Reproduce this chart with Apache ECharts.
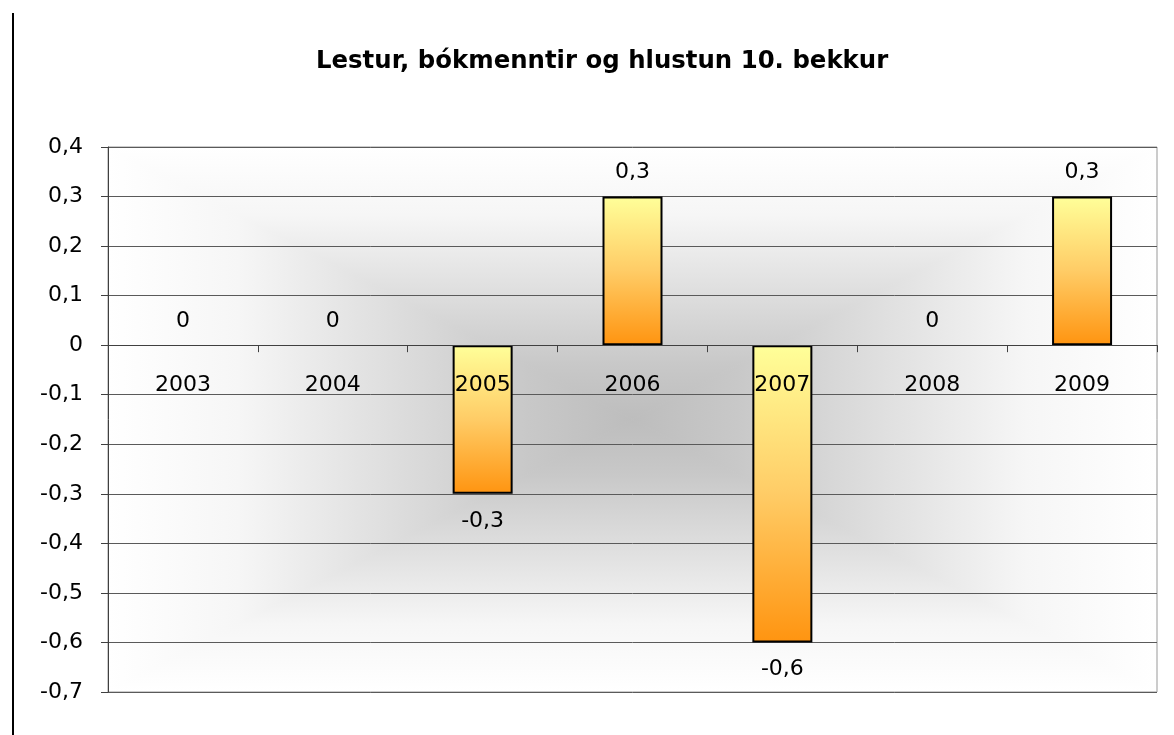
<!DOCTYPE html>
<html>
<head>
<meta charset="utf-8">
<title>Lestur, bókmenntir og hlustun 10. bekkur</title>
<script src="https://cdn.jsdelivr.net/npm/echarts@6/dist/echarts.min.js"></script>
<style>
    html, body { margin: 0; padding: 0; background: #fff; }
    #chart { width: 1174px; height: 735px; }
</style>
</head>
<body>
<div id="chart"></div>
<script>
// gögn
const years = ['2003', '2004', '2005', '2006', '2007', '2008', '2009'];
const values = [0, 0, -0.3, 0.3, -0.6, 0, 0.3];
const yTicks = { min: -0.7, max: 0.4, interval: 0.1 };

const FONT = '"DejaVu Sans", Arial, sans-serif';
const GRID = { left: 108, right: 17, top: 147, bottom: 43 };
const W = 1174, H = 735;

// tala með kommu
const fmt = v => Math.abs(v) < 1e-9 ? '0' : (+v).toFixed(1).replace('.', ',');

// bakgrunnur: ferhyrndur litaskali frá miðju (eins og í Excel)
function backgroundPieces() {
    const x0 = GRID.left, x1 = W - GRID.right, y0 = GRID.top, y1 = H - GRID.bottom;
    const cx = (x0 + x1) / 2, cy = (y0 + y1) / 2;
    const stops = [
        { offset: 0, color: '#ffffff' },
        { offset: 0.25, color: '#f6f6f6' },
        { offset: 0.55, color: '#dddddd' },
        { offset: 0.8, color: '#c8c8c8' },
        { offset: 1, color: '#bdbdbd' }
    ];
    const grad = (ax, ay, bx, by) => new echarts.graphic.LinearGradient(ax, ay, bx, by, stops, true);
    const tri = (pts, g) => ({
        type: 'polygon', z: -10, silent: true,
        shape: { points: pts },
        style: { fill: g, stroke: g, lineWidth: 1 }
    });
    return [
        tri([[x0, y0], [x1, y0], [cx, cy]], grad(0, y0, 0, cy)),
        tri([[x0, y1], [x1, y1], [cx, cy]], grad(0, y1, 0, cy)),
        tri([[x0, y0], [x0, y1], [cx, cy]], grad(x0, 0, cx, 0)),
        tri([[x1, y0], [x1, y1], [cx, cy]], grad(x1, 0, cx, 0)),
        // lóðrétt lína vinstra megin
        {
            type: 'line', z: 5, silent: true,
            shape: { x1: 13, y1: 13, x2: 13, y2: H },
            style: { stroke: '#000', lineWidth: 2 }
        }
    ];
}

const barColor = new echarts.graphic.LinearGradient(0, 0, 0, 1, [
    { offset: 0, color: '#ffff99' },
    { offset: 0.5, color: '#ffcc66' },
    { offset: 1, color: '#ff9410' }
]);

const chart = echarts.init(document.getElementById('chart'), null, { renderer: 'canvas' });

chart.setOption({
    animation: false,
    backgroundColor: '#fff',
    textStyle: { fontFamily: FONT },
    title: {
        text: 'Lestur, bókmenntir og hlustun 10. bekkur',
        left: 311,
        top: 45,
        textStyle: { fontFamily: FONT, fontSize: 24.4, fontWeight: 'bold', color: '#000' }
    },
    grid: {
        left: GRID.left, right: GRID.right, top: GRID.top, bottom: GRID.bottom,
        outerBoundsMode: 'none',
        containLabel: false,
        show: true, borderColor: '#999', borderWidth: 1, backgroundColor: 'transparent'
    },
    graphic: { elements: backgroundPieces() },
    xAxis: {
        type: 'category',
        data: years,
        z: 3,
        offset: 0,
        axisLine: { show: true, onZero: false, lineStyle: { color: '#404040', width: 1 } },
        axisTick: { show: true, length: 7, lineStyle: { color: '#404040' } },
        axisLabel: { margin: 29, fontSize: 22, color: '#000', fontFamily: FONT }
    },
    yAxis: {
        type: 'value',
        min: yTicks.min,
        max: yTicks.max,
        interval: yTicks.interval,
        axisLine: { show: true, onZero: false, lineStyle: { color: '#404040', width: 1 } },
        axisTick: { show: true, length: 7, lineStyle: { color: '#404040' } },
        axisLabel: { margin: 25, fontSize: 22, color: '#000', fontFamily: FONT, formatter: fmt },
        splitLine: { show: true, lineStyle: { color: '#5a5a5a', width: 1 } }
    },
    series: [{
        type: 'bar',
        barWidth: 60,
        data: values.map(v => ({
            value: v,
            label: v < 0 ? { position: 'bottom', distance: 16 } : { position: 'top', distance: 13 },
            itemStyle: { borderWidth: v === 0 ? 0 : 2 }
        })),
        itemStyle: { color: barColor, borderColor: '#000', borderWidth: 2 },
        label: {
            show: true,
            fontSize: 22,
            color: '#000',
            fontFamily: FONT,
            formatter: p => fmt(p.value)
        }
    }]
});

// færa x-ás upp að núlllínunni (onZero virkar ekki hér)
const zeroY = chart.convertToPixel({ yAxisIndex: 0 }, 0);
const bottomY = chart.convertToPixel({ yAxisIndex: 0 }, yTicks.min);
chart.setOption({ xAxis: { offset: zeroY - bottomY } });

window.addEventListener('resize', () => chart.resize());
</script>
</body>
</html>
